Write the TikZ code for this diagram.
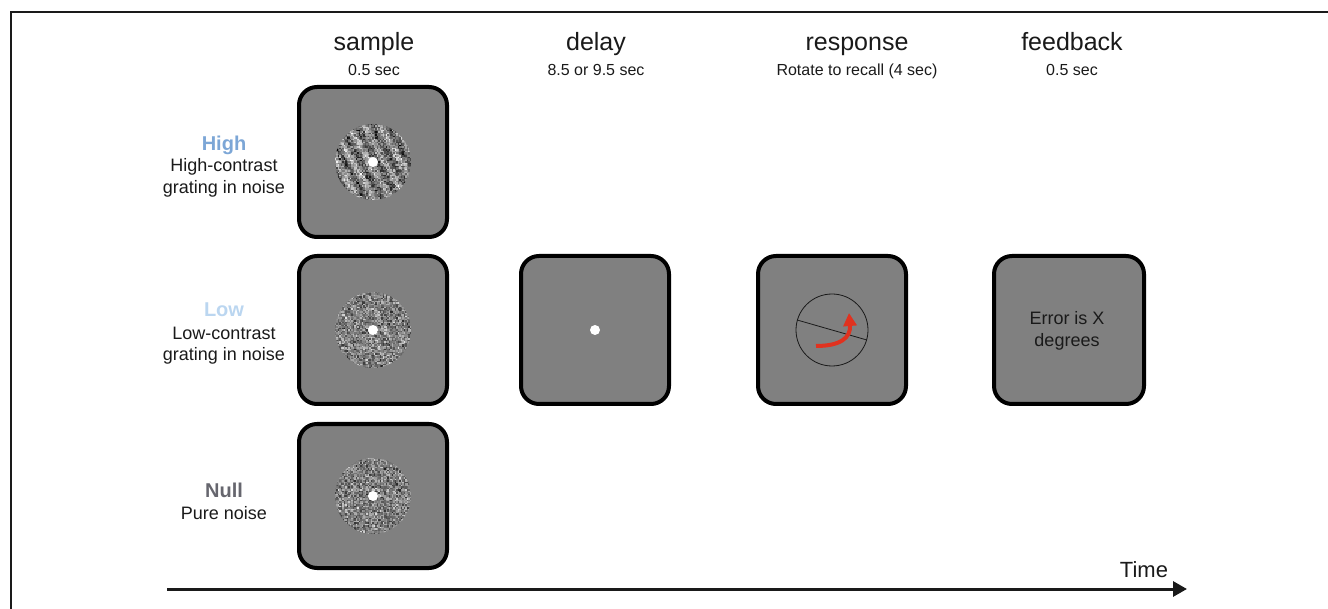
\documentclass[tikz,border=0pt]{standalone}
\usepackage{fontspec}
\setmainfont{Liberation Sans}
\usetikzlibrary{arrows.meta}

\definecolor{panelgray}{HTML}{808080}
\definecolor{highblue}{HTML}{7CA6D6}
\definecolor{lowblue}{HTML}{BBD6F0}
\definecolor{nullgray}{HTML}{66666E}
\definecolor{inkc}{HTML}{1A1A1A}
\definecolor{dialred}{HTML}{E0321F}

\tikzset{
  panel/.style={draw=black, line width=4pt, fill=panelgray, rounded corners=18pt,
    minimum width=148pt, minimum height=148pt, inner sep=0pt},
  header/.style={anchor=base, inner sep=0pt, text=inkc, font=\fontsize{25}{29}\selectfont},
  subheader/.style={anchor=base, inner sep=0pt, text=inkc, font=\fontsize{16}{19}\selectfont},
  condname/.style={anchor=base, inner sep=0pt, font=\bfseries\fontsize{20}{24}\selectfont},
  conddesc/.style={anchor=base, inner sep=0pt, text=inkc, font=\fontsize{18}{22}\selectfont},
  fixdot/.style={circle, fill=white, draw=none, minimum size=10pt, inner sep=0pt},
}

% noisy patch with an optional oriented grating: centre x, centre y, grating contrast, seed
% cells are 1.5pt; the grating runs at 60 degrees with a period of about 14pt
\newcommand\noisepatch[4]{%
  \begin{scope}
    \clip (#1,#2) circle[radius=38pt];
    \pgfmathsetseed{#4}
    \foreach \i in {-26,...,26}{
      \foreach \j in {-26,...,26}{
        \pgfmathsetmacro\gv{max(0,min(1,0.5+#3*sin(19.3*(\j-1.732*\i))+0.28*(rnd+rnd+rnd-1.5)))}
        \definecolor{cellc}{gray}{\gv}
        \fill[cellc] (#1+1.5*\i-0.8,#2+1.5*\j-0.8) rectangle ++(1.6,1.6);
      }}
  \end{scope}}

\begin{document}
\begin{tikzpicture}[x=1pt, y=-1pt]
\useasboundingbox (0,0) rectangle (1328,609);

% partial outer frame
\draw[line width=2pt, inkc] (11,609) -- (11,12) -- (1328,12);

% column headers
\node[header] (hsample) at (374,51) {sample};
\node[subheader] (ssample) at (374,76) {0.5 sec};
\node[header] (hdelay) at (596,51) {delay};
\node[subheader] (sdelay) at (596,76) {8.5 or 9.5 sec};
\node[header] (hresp) at (857,51) {response};
\node[subheader] (sresp) at (857,76) {Rotate to recall (4 sec)};
\node[header] (hfeed) at (1072,51) {feedback};
\node[subheader] (sfeed) at (1072,76) {0.5 sec};

% condition labels
\node[condname, text=highblue] (nhigh) at (224,151) {High};
\node[conddesc] (dhigh1) at (224,172) {High-contrast};
\node[conddesc] (dhigh2) at (224,194) {grating in noise};
\node[condname, text=lowblue] (nlow) at (224,317) {Low};
\node[conddesc] (dlow1) at (224,340) {Low-contrast};
\node[conddesc] (dlow2) at (224,361) {grating in noise};
\node[condname, text=nullgray] (nnull) at (224,497) {Null};
\node[conddesc] (dnull) at (224,519) {Pure noise};

% sample panels
\node[panel, minimum height=150pt] (phigh) at (373,162) {};
\node[panel] (plow) at (373,330) {};
\node[panel, minimum height=144pt] (pnull) at (373,496) {};
\noisepatch{373}{162}{0.17}{11}
\noisepatch{373}{330}{0.03}{23}
\noisepatch{373}{496}{0}{37}
\node[fixdot] (fhigh) at (phigh.center) {};
\node[fixdot] (flow) at (plow.center) {};
\node[fixdot] (fnull) at (pnull.center) {};

% delay panel
\node[panel] (pdelay) at (595,330) {};
\node[fixdot] (fdelay) at (pdelay.center) {};

% response panel with dial
\node[panel] (presp) at (832,330) {};
\node[circle, draw=inkc, line width=0.8pt, minimum size=72pt, inner sep=0pt] (dial) at (presp.center) {};
\draw[inkc, line width=0.8pt] (dial.164) -- (dial.-16);
\coordinate (rotA) at (816,346);
\coordinate (rotB) at (849,313);
\draw[dialred, line width=4pt, -{Triangle[length=13pt,width=13pt]}]
  (rotA) .. controls (840,346) and (851,338) .. (rotB);

% feedback panel
\node[panel, minimum width=150pt] (pfeed) at (1069,330) {};
\node[conddesc] (ferr1) at (1067,325) {Error is X};
\node[conddesc] (ferr2) at (1067,347) {degrees};

% time axis
\coordinate (tstart) at (167,589);
\coordinate (tend) at (1187,589);
\draw[inkc, line width=3pt, -{Triangle[length=14pt,width=15pt]}] (tstart) -- (tend);
\node[header, font=\fontsize{22}{26}\selectfont] (ltime) at (1144,577) {Time};
\end{tikzpicture}
\end{document}
